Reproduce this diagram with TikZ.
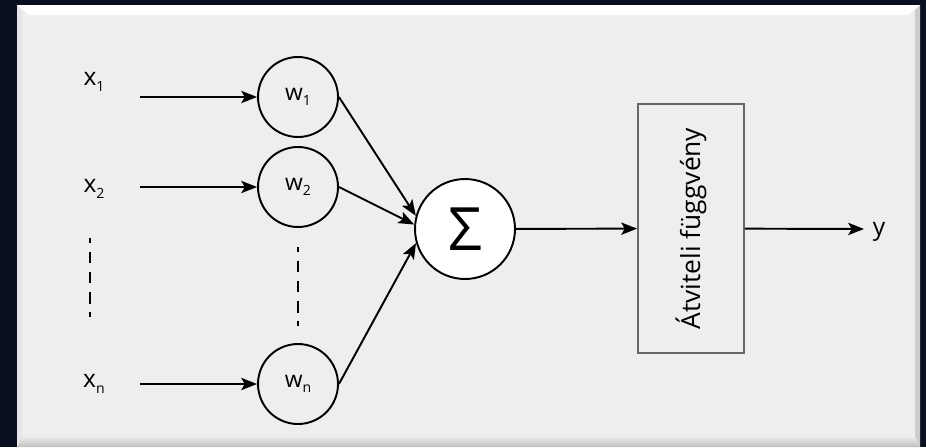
\documentclass[tikz,border=0pt]{standalone}
\usepackage{fontspec}
\setmainfont{Open Sans}
\usepackage{tikz}
\usetikzlibrary{arrows.meta, positioning}
\definecolor{frame}{HTML}{0B1020}
\definecolor{panel}{HTML}{EEEEEE}
\newcommand{\sub}[2]{#1\raisebox{-0.45ex}{\fontsize{8}{8}\selectfont #2}}

\begin{document}
\begin{tikzpicture}[x=0.02cm, y=-0.02cm, line width=1.1pt,
  weight/.style={draw, circle, minimum size=1.6cm, inner sep=0pt, font=\fontsize{13}{13}\selectfont},
  label/.style={font=\fontsize{14}{14}\selectfont},
  tip/.style={-{Stealth[length=9pt, width=7pt, inset=2pt]}},
  dots/.style={line width=1.3pt, dash pattern=on 2.8pt off 5pt on 6.5pt off 5pt on 6.5pt off 5pt on 6.5pt off 5pt on 2.8pt off 20pt}]
% frame and panel
\fill[frame] (0, 0) rectangle (926, 447);
\useasboundingbox (0, 0) rectangle (926, 447);
\fill[panel] (17, 5) rectangle (920, 447);
\fill[white] (17, 5) -- (920, 5) -- (908, 15) -- (29, 15) -- cycle;
\fill[black!20] (920, 5) -- (920, 447) -- (915, 440) -- (915, 10) -- cycle;
\shade[top color=panel, bottom color=black!25] (22, 436) -- (915, 436) -- (920, 447) -- (17, 447) -- cycle;
\fill[black!10] (17, 5) -- (22, 10) -- (22, 436) -- (17, 447) -- cycle;
% inputs
\node[label] (x1) at (94, 82) {\sub{x}{1}};
\node[label] (x2) at (94, 189) {\sub{x}{2}};
\node[label] (xn) at (94, 384) {\sub{x}{n}};
\coordinate (i1) at (140, 97);
\coordinate (i2) at (140, 187);
\coordinate (in) at (140, 384);
% weights
\node[weight] (w1) at (298, 97) {\sub{w}{1}};
\node[weight] (w2) at (298, 187) {\sub{w}{2}};
\node[weight] (wn) at (298, 384) {\sub{w}{n}};
\node[draw, circle, fill=white, minimum size=2cm, inner sep=0pt, font=\fontsize{34}{34}\selectfont] (sum) at (465, 229) {Σ};
\node[draw=black!60, minimum width=2.12cm, minimum height=4.98cm, inner sep=0pt] (f) at (691, 228.5) {};
\node[rotate=90, font=\fontsize{15}{15}\selectfont] (ft) at (f.center) {Átviteli függvény};
\node[label] (y) at (879, 232) {y};
\coordinate (yend) at (864, 229);
% gaps
\coordinate (d1) at (90, 238);
\coordinate (d2) at (90, 320);
\coordinate (e1) at (298, 247);
\coordinate (e2) at (298, 328);
\draw[dots] (d1) to (d2);
\draw[dots] (e1) to (e2);
% connections
\draw[tip] (i1) to (w1);
\draw[tip] (i2) to (w2);
\draw[tip] (in) to (wn);
\draw[tip] (w1.east) to (sum.165);
\draw[tip] (w2.east) to (sum.175);
\draw[tip] (wn.east) to (sum.196);
\draw[tip] (sum) to (f);
\draw[tip] (f) to (yend);
\end{tikzpicture}
\end{document}
